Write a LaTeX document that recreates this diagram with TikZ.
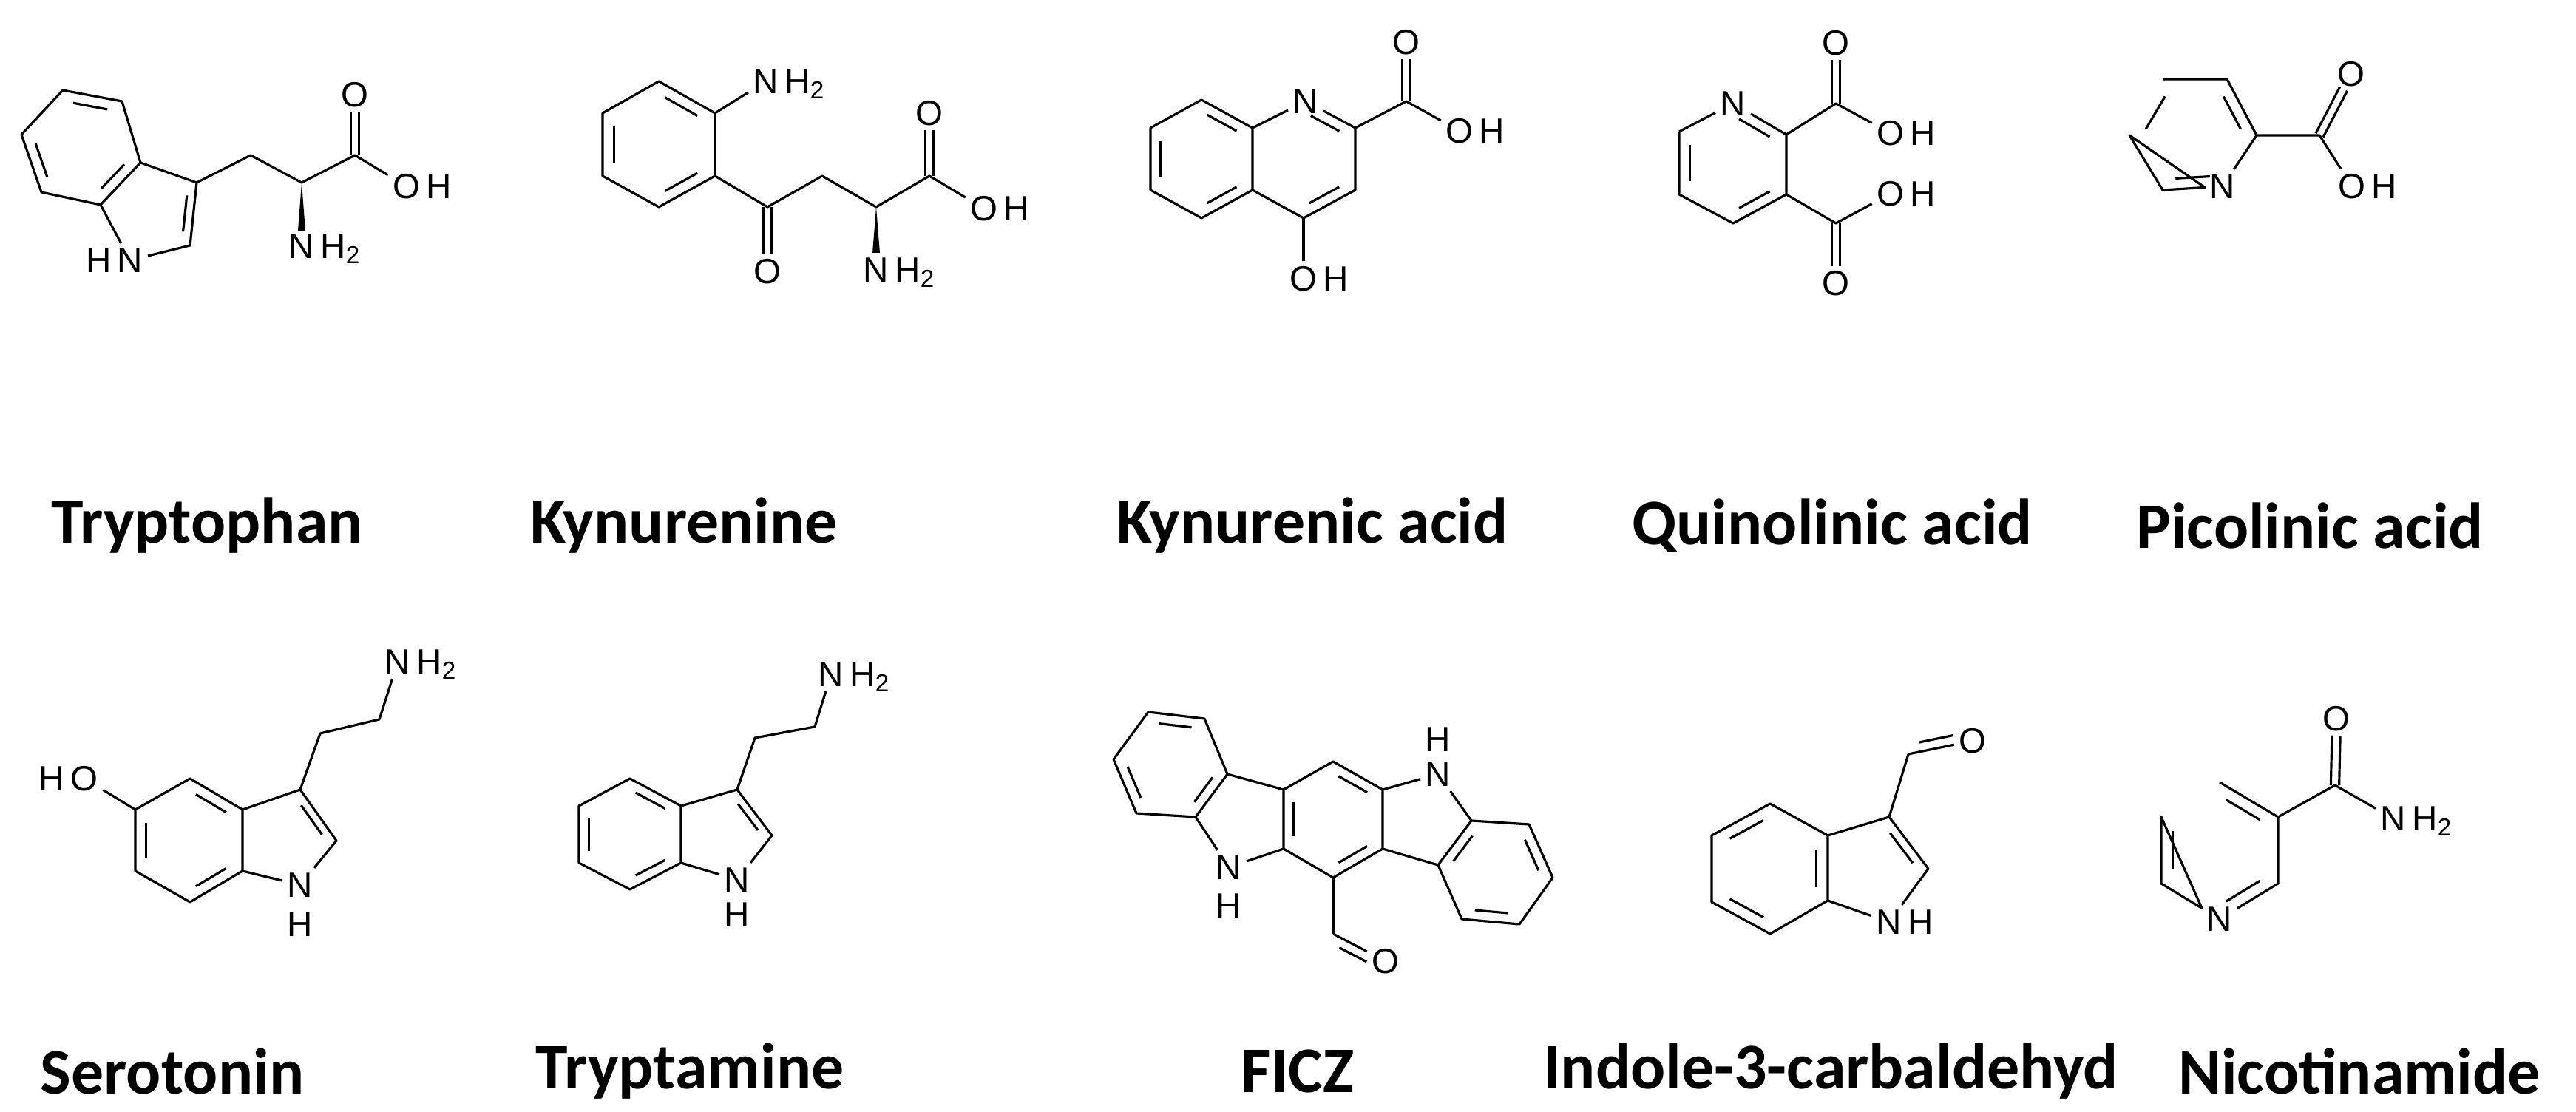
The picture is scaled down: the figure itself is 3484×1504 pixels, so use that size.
\documentclass[tikz,border=0pt]{standalone}
\usepackage{fontspec}
\usetikzlibrary{calc}
\newfontfamily\atomfont{Liberation Sans}
\newfontfamily\lblfont{Carlito}
\newcommand{\innerbond}[3]{\draw ($($(#1)!0.14!(#2)$)!0.2!(#3)$) -- ($($(#2)!0.14!(#1)$)!0.2!(#3)$);}
\newcommand{\dblexo}[2]{\draw[shorten >=6.5pt] ($(#1)!1.6pt!90:(#2)$) -- ($(#2)!1.6pt!-90:(#1)$);
  \draw[shorten >=6.5pt] ($(#1)!1.6pt!-90:(#2)$) -- ($(#2)!1.6pt!90:(#1)$);}
\newcommand{\asymdbl}[3]{\draw (#1) -- (#2);
  \draw ($($(#1)!0.2!(#2)$)!3.6pt!#3:(#2)$) -- ($($(#1)!0.72!(#2)$)!3.6pt!-#3:(#1)$);}
\begin{document}
\begin{tikzpicture}[x=0.01cm,y=-0.01cm,line width=0.9pt,line join=round,
  atom/.style={font=\atomfont\fontsize{13.5}{15}\selectfont,inner sep=1.5pt},
  hsub/.style={font=\atomfont\fontsize{13.5}{15}\selectfont,inner sep=0pt},
  lbl/.style={font=\lblfont\bfseries\fontsize{25}{28}\selectfont,inner sep=0pt}]
\fill[white] (0,0) rectangle (3484,1504);
\useasboundingbox (0,0) rectangle (3484,1504);

% ---------- Tryptophan ----------
\coordinate (b1) at (85,122); \coordinate (b2) at (165,137); \coordinate (b3) at (190,220);
\coordinate (b4) at (136,277); \coordinate (b5) at (56,260); \coordinate (b6) at (29,182);
\coordinate (bc) at (110,200); \coordinate (pc) at (205,286);
\coordinate (tc3) at (266,247); \coordinate (tc2) at (257,332);
\coordinate (tch) at (339,210); \coordinate (tca) at (408,247); \coordinate (tcc) at (480,210);
\node[atom] (tn) at (176,352) {N};
\node[hsub,anchor=base east] (tnh) at (tn.base west) {H};
\node[atom] (to) at (480,128) {O};
\node[atom] (toh) at (550,252) {O};
\node[hsub,anchor=base west] at (toh.base east) {H};
\node[atom] (tnh2) at (408,333) {N};
\node[hsub,anchor=base west] at (tnh2.base east) {H\textsubscript{2}};
\draw (b1) -- (b2) -- (b3) -- (b4) -- (b5) -- (b6) -- cycle;
\innerbond{b1}{b2}{bc} \innerbond{b6}{b5}{bc} \innerbond{b3}{b4}{bc}
\draw (b3) -- (tc3) -- (tc2) -- (tn) -- (b4);
\innerbond{tc3}{tc2}{pc}
\draw (tc3) -- (tch) -- (tca) -- (tcc) -- (toh);
\dblexo{tcc}{to}
\fill (tca) -- ($(408,312)+(-5,0)$) -- ($(408,312)+(5,0)$) -- cycle;

% ---------- Kynurenine ----------
\coordinate (r1) at (891,110); \coordinate (r2) at (967,153); \coordinate (r3) at (967,238);
\coordinate (r4) at (891,280); \coordinate (r5) at (815,238); \coordinate (r6) at (815,153);
\coordinate (rc) at (891,195);
\coordinate (kco) at (1038,280); \coordinate (kch) at (1112,238); \coordinate (kca) at (1185,280);
\coordinate (kcc) at (1257,238);
\node[atom] (kn1) at (1036,110) {N};
\node[hsub,anchor=base west] at (kn1.base east) {H\textsubscript{2}};
\node[atom] (ko1) at (1038,367) {O};
\node[atom] (ko2) at (1257,153) {O};
\node[atom] (koh) at (1331,282) {O};
\node[hsub,anchor=base west] at (koh.base east) {H};
\node[atom] (kn2) at (1185,365) {N};
\node[hsub,anchor=base west] at (kn2.base east) {H\textsubscript{2}};
\draw (r1) -- (r2) -- (r3) -- (r4) -- (r5) -- (r6) -- cycle;
\innerbond{r1}{r2}{rc} \innerbond{r6}{r5}{rc} \innerbond{r4}{r3}{rc}
\draw (r2) -- (kn1);
\draw (r3) -- (kco) -- (kch) -- (kca) -- (kcc) -- (koh);
\dblexo{kco}{ko1} \dblexo{kcc}{ko2}
\fill (kca) -- ($(1185,342)+(-5,0)$) -- ($(1185,342)+(5,0)$) -- cycle;

% ---------- Kynurenic acid ----------
\coordinate (a1) at (1625,135); \coordinate (a2) at (1694,173); \coordinate (a3) at (1694,257);
\coordinate (a4) at (1625,295); \coordinate (a5) at (1556,257); \coordinate (a6) at (1556,173);
\coordinate (ac) at (1625,215); \coordinate (qc) at (1763,215);
\coordinate (kc2) at (1833,173); \coordinate (kc3) at (1833,257); \coordinate (kc4) at (1763,295);
\coordinate (kcx) at (1902,137);
\node[atom] (kan) at (1766,137) {N};
\node[atom] (kao) at (1902,57) {O};
\node[atom] (kaoh) at (1974,177) {O};
\node[hsub,anchor=base west] at (kaoh.base east) {H};
\node[atom] (kao4) at (1763,377) {O};
\node[hsub,anchor=base west] at (kao4.base east) {H};
\draw (a1) -- (a2) -- (a3) -- (a4) -- (a5) -- (a6) -- cycle;
\innerbond{a1}{a2}{ac} \innerbond{a6}{a5}{ac} \innerbond{a4}{a3}{ac}
\draw (a2) -- (kan) -- (kc2) -- (kc3) -- (kc4) -- (a3);
\innerbond{kan}{kc2}{qc} \innerbond{kc3}{kc4}{qc}
\draw (kc2) -- (kcx) -- (kaoh);
\dblexo{kcx}{kao}
\draw (kc4) -- (kao4);

% ---------- Quinolinic acid ----------
\node[atom] (qn) at (2344,140) {N};
\coordinate (q2) at (2416,182); \coordinate (q3) at (2416,263); \coordinate (q4) at (2344,302);
\coordinate (q5) at (2271,263); \coordinate (q6) at (2271,178); \coordinate (qq) at (2344,221);
\coordinate (qct) at (2483,140); \coordinate (qcb) at (2483,302);
\node[atom] (qot) at (2483,58) {O};
\node[atom] (qoht) at (2557,180) {O};
\node[hsub,anchor=base west] at (qoht.base east) {H};
\node[atom] (qohb) at (2557,262) {O};
\node[hsub,anchor=base west] at (qohb.base east) {H};
\node[atom] (qob) at (2483,383) {O};
\draw (q6) -- (qn) -- (q2) -- (q3) -- (q4) -- (q5) -- (q6);
\innerbond{qn}{q2}{qq} \innerbond{q6}{q5}{qq} \innerbond{q3}{q4}{qq}
\draw (q2) -- (qct) -- (qoht);
\draw (q3) -- (qcb) -- (qohb);
\dblexo{qct}{qot} \dblexo{qcb}{qob}

% ---------- Picolinic acid ----------
\coordinate (p1) at (2925,107); \coordinate (p2) at (3012,107); \coordinate (p3) at (3052,183);
\coordinate (p5) at (2925,257); \coordinate (p6) at (2880,183); \coordinate (ppc) at (2966,182);
\node[atom] (pn) at (3006,252) {N};
\coordinate (pcx) at (3137,183);
\node[atom] (po) at (3180,100) {O};
\node[atom] (poh) at (3181,252) {O};
\node[hsub,anchor=base west] at (poh.base east) {H};
\draw (p1) -- (p2) -- (p3) -- (pn) -- (p5) -- (p6) -- cycle;
\innerbond{p2}{p3}{ppc} \innerbond{p1}{p6}{ppc} \innerbond{p5}{pn}{ppc}
\draw (p3) -- (pcx) -- (poh);
\dblexo{pcx}{po}

% ---------- Serotonin ----------
\coordinate (s1) at (257,1053); \coordinate (s2) at (328,1095); \coordinate (s3) at (328,1178);
\coordinate (s4) at (257,1220); \coordinate (s5) at (183,1178); \coordinate (s6) at (183,1095);
\coordinate (sc) at (257,1137); \coordinate (spc) at (385,1135);
\coordinate (sc3) at (406,1068); \coordinate (sc2) at (455,1137);
\coordinate (sa) at (433,992); \coordinate (sb) at (513,973);
\node[atom] (so) at (114,1053) {O};
\node[hsub,anchor=base east] at (so.base west) {H};
\node[atom] (sn) at (406,1197) {N};
\node[atom] (snh) at (406,1250) {H};
\node[atom] (snn) at (538,895) {N};
\node[hsub,anchor=base west] at (snn.base east) {H\textsubscript{2}};
\draw (s1) -- (s2) -- (s3) -- (s4) -- (s5) -- (s6) -- cycle;
\innerbond{s1}{s2}{sc} \innerbond{s6}{s5}{sc} \innerbond{s4}{s3}{sc}
\draw (s6) -- (so);
\draw (s2) -- (sc3) -- (sc2) -- (sn) -- (s3);
\innerbond{sc3}{sc2}{spc}
\draw (sc3) -- (sa) -- (sb) -- (snn);

% ---------- Tryptamine ----------
\coordinate (t1) at (852,1053); \coordinate (t2) at (921,1090); \coordinate (t3) at (921,1167);
\coordinate (t4) at (852,1203); \coordinate (t5) at (783,1167); \coordinate (t6) at (783,1090);
\coordinate (tbc) at (852,1128); \coordinate (tpc) at (976,1129);
\coordinate (uc3) at (997,1068); \coordinate (uc2) at (1044,1130);
\coordinate (ua) at (1021,998); \coordinate (ub) at (1102,983);
\node[atom] (un) at (997,1190) {N};
\node[atom] (unh) at (997,1237) {H};
\node[atom] (unn) at (1124,912) {N};
\node[hsub,anchor=base west] at (unn.base east) {H\textsubscript{2}};
\draw (t1) -- (t2) -- (t3) -- (t4) -- (t5) -- (t6) -- cycle;
\innerbond{t1}{t2}{tbc} \innerbond{t6}{t5}{tbc} \innerbond{t4}{t3}{tbc}
\draw (t2) -- (uc3) -- (uc2) -- (un) -- (t3);
\innerbond{uc3}{uc2}{tpc}
\draw (uc3) -- (ua) -- (ub) -- (unn);

% ---------- FICZ ----------
\coordinate (A1) at (1553,963); \coordinate (A2) at (1629,972); \coordinate (A3) at (1660,1047);
\coordinate (A4) at (1617,1105); \coordinate (A5) at (1537,1100); \coordinate (A6) at (1506,1027);
\coordinate (Ac) at (1584,1036);
\coordinate (c1) at (1736,1068); \coordinate (c2) at (1803,1030); \coordinate (c3) at (1870,1068);
\coordinate (c4) at (1870,1148); \coordinate (c5) at (1803,1187); \coordinate (c6) at (1736,1148);
\coordinate (cc) at (1803,1108);
\coordinate (d1) at (1990,1110); \coordinate (e2) at (2068,1115); \coordinate (e3) at (2100,1187);
\coordinate (e4) at (2055,1250); \coordinate (e5) at (1977,1243); \coordinate (d2) at (1945,1170);
\coordinate (ec) at (2022,1179);
\coordinate (fcho) at (1803,1263);
\node[atom] (fnl) at (1662,1173) {N};
\node[atom] (fhl) at (1662,1225) {H};
\node[atom] (fnr) at (1945,1047) {N};
\node[atom] (fhr) at (1945,1000) {H};
\node[atom] (fo) at (1874,1300) {O};
\draw (A1) -- (A2) -- (A3) -- (A4) -- (A5) -- (A6) -- cycle;
\innerbond{A1}{A2}{Ac} \innerbond{A6}{A5}{Ac} \innerbond{A4}{A3}{Ac}
\draw (A3) -- (c1); \draw (A4) -- (fnl) -- (c6);
\draw (c1) -- (c2) -- (c3) -- (c4) -- (c5) -- (c6) -- cycle;
\innerbond{c1}{c6}{cc} \innerbond{c2}{c3}{cc} \innerbond{c4}{c5}{cc}
\draw (c3) -- (fnr) -- (d1);
\draw (d1) -- (e2) -- (e3) -- (e4) -- (e5) -- (d2) -- cycle;
\innerbond{d1}{d2}{ec} \innerbond{e2}{e3}{ec} \innerbond{e4}{e5}{ec}
\draw (d2) -- (c4);
\draw (c5) -- (fcho);
\asymdbl{fcho}{fo}{-90}

% ---------- Indole-3-carbaldehyde ----------
\coordinate (i1) at (2394,1087); \coordinate (i2) at (2472,1130); \coordinate (i3) at (2472,1218);
\coordinate (i4) at (2394,1263); \coordinate (i5) at (2315,1220); \coordinate (i6) at (2315,1130);
\coordinate (ic) at (2394,1175); \coordinate (ipc) at (2532,1175);
\coordinate (ic3) at (2555,1105); \coordinate (ic2) at (2608,1175);
\coordinate (icho) at (2581,1020);
\node[atom] (in) at (2555,1247) {N};
\node[hsub,anchor=base west] at (in.base east) {H};
\node[atom] (io) at (2668,1002) {O};
\draw (i1) -- (i2) -- (i3) -- (i4) -- (i5) -- (i6) -- cycle;
\innerbond{i1}{i6}{ic} \innerbond{i2}{i3}{ic} \innerbond{i5}{i4}{ic}
\draw (i2) -- (ic3) -- (ic2) -- (in) -- (i3);
\innerbond{ic3}{ic2}{ipc}
\draw (ic3) -- (icho);
\asymdbl{icho}{io}{90}

% ---------- Nicotinamide ----------
\coordinate (n1) at (3002,1058); \coordinate (n2) at (3081,1105); \coordinate (n3) at (3081,1195);
\coordinate (n5) at (2923,1195); \coordinate (n6) at (2923,1105); \coordinate (nc) at (3002,1150);
\coordinate (ncx) at (3158,1062);
\node[atom] (nn) at (3002,1243) {N};
\node[atom] (no) at (3160,972) {O};
\node[atom] (nnh) at (3237,1107) {N};
\node[hsub,anchor=base west] at (nnh.base east) {H\textsubscript{2}};
\draw (n1) -- (n2) -- (n3) -- (nn) -- (n5) -- (n6) -- cycle;
\innerbond{n1}{n2}{nc} \innerbond{n6}{n5}{nc} \innerbond{n3}{nn}{nc}
\draw (n2) -- (ncx) -- (nnh);
\dblexo{ncx}{no}

% ---------- Labels ----------
\node[lbl] (l1) at (280,711) {Tryptophan};
\node[lbl] (l2) at (925,711) {Kynurenine};
\node[lbl] (l3) at (1775,711) {Kynurenic acid};
\node[lbl] (l4) at (2478,711) {Quinolinic acid};
\node[lbl] (l5) at (3124,711) {Picolinic acid};
\node[lbl] (l6) at (233,1449) {Serotonin};
\node[lbl] (l7) at (933,1449) {Tryptamine};
\node[lbl] (l8) at (1755,1449) {FICZ};
\node[lbl] (l9) at (2476,1449) {Indole-3-carbaldehyd};
\node[lbl] (l10) at (3191,1449) {Nicotinamide};
\end{tikzpicture}
\end{document}
